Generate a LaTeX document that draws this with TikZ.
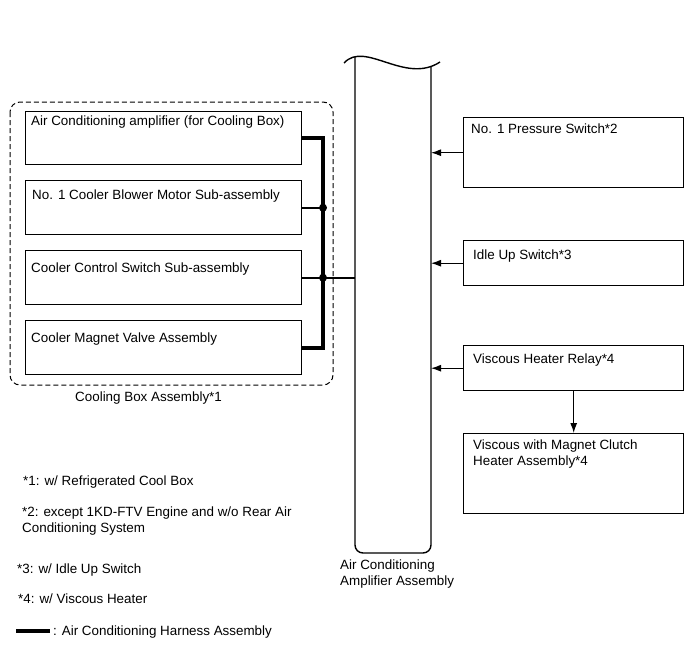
\documentclass[tikz,border=0pt]{standalone}
\usepackage{fontspec}
\setmainfont{Liberation Sans}
\usetikzlibrary{arrows.meta}
\begin{document}
\begin{tikzpicture}[x=1pt,y=-1pt,
  every node/.style={font=\fontsize{13.4}{16}\selectfont},
  unit/.style={draw,line width=1.4pt,anchor=north west,inner sep=0pt},
  utext/.style={anchor=base west,inner sep=0pt},
  harness/.style={line width=3.8pt},
  tap/.style={line width=2.4pt},
  sig/.style={line width=1.1pt,-{Latex[length=10pt,width=7pt]}}]
\useasboundingbox (0,0) rectangle (690,659);
% cooling box
\draw[dash pattern=on 5pt off 3pt,rounded corners=10pt,line width=1pt] (10,102) rectangle (333,385);
\node[unit,minimum width=276,minimum height=53] (cab) at (25,111) {};
\node[unit,minimum width=276,minimum height=54] (cbm) at (25,180) {};
\node[unit,minimum width=276,minimum height=54] (ccs) at (25,250) {};
\node[unit,minimum width=276,minimum height=54] (cmv) at (25,320) {};
\node[utext] (cabt) at (31,125) {Air Conditioning amplifier (for Cooling Box)};
\node[utext] (cbmt) at (32,199) {No. 1 Cooler Blower Motor Sub-assembly};
\node[utext] (ccst) at (31,272) {Cooler Control Switch Sub-assembly};
\node[utext] (cmvt) at (31,342) {Cooler Magnet Valve Assembly};
\node[utext] (cbox) at (75,401) {Cooling Box Assembly*1};
% amplifier
\coordinate (ampL) at (355,0);
\coordinate (ampR) at (431,0);
\coordinate (bus) at (323,0);
\draw[line width=1.4pt,rounded corners=8pt] (355,57) -- (355,553) -- (431,553) -- (431,66);
\draw[line width=1.4pt] (344,63) .. controls (365,40) and (405,85) .. (440,62);
\node[anchor=north west,align=left,inner sep=0pt] (ampt) at (340,560) {Air Conditioning\\Amplifier Assembly};
% harness
\draw[harness] (cab.east) -| (bus |- cmv.east) -- (cmv.east);
\draw[tap] (cbm.east) -- (bus |- cbm.east);
\draw[tap] (ccs.east) -- (ccs.east -| ampL);
\fill (bus |- cbm.east) circle (4);
\fill (bus |- ccs.east) circle (4);
% right side
\node[unit,minimum width=220,minimum height=70] (ps1) at (463,117) {};
\node[unit,minimum width=220,minimum height=45] (ius) at (463,240) {};
\node[unit,minimum width=220,minimum height=45] (vhr) at (463,345) {};
\node[unit,minimum width=220,minimum height=80] (vmc) at (463,433) {};
\node[utext] (ps1t) at (471,133) {No. 1 Pressure Switch*2};
\node[utext] (iust) at (473,259) {Idle Up Switch*3};
\node[utext] (vhrt) at (473,363) {Viscous Heater Relay*4};
\node[anchor=north west,align=left,inner sep=0pt] (vmct) at (473,440) {Viscous with Magnet Clutch\\Heater Assembly*4};
\draw[sig] (ps1.west) -- (ps1.west -| ampR);
\draw[sig] (ius.west) -- (ius.west -| ampR);
\draw[sig] (vhr.west) -- (vhr.west -| ampR);
\draw[sig] (vhr.south) -- (vmc.north);
% notes
\node[utext] (n1) at (23,485) {*1: w/ Refrigerated Cool Box};
\node[anchor=north west,align=left,inner sep=0pt] (n2) at (22,507) {*2: except 1KD-FTV Engine and w/o Rear Air\\Conditioning System};
\node[utext] (n3) at (17,573) {*3: w/ Idle Up Switch};
\node[utext] (n4) at (18,603) {*4: w/ Viscous Heater};
\draw[harness] (16,631) -- (50,631);
\node[utext] (n5) at (53,635) {: Air Conditioning Harness Assembly};
\end{tikzpicture}
\end{document}
